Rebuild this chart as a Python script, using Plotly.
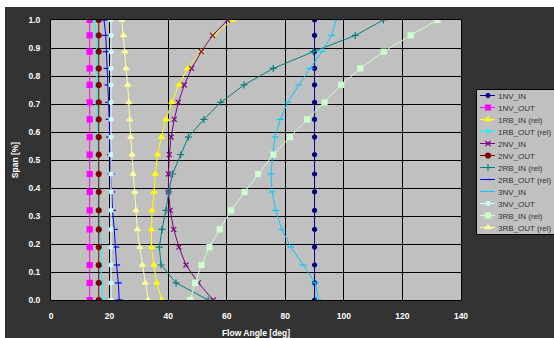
import plotly.graph_objects as go

span = [0.0, 0.061, 0.125, 0.189, 0.252, 0.32, 0.386, 0.45, 0.519,
        0.582, 0.645, 0.706, 0.768, 0.827, 0.887, 0.945, 1.0]

nv1_in = [90.0] * 17
nv1_out = [13.2] * 17
rb1_in = [37.8, 36.1, 35.1, 34.3, 34.3, 34.5, 35.2, 35.6, 36.4, 37.7, 39.3, 41.2, 43.6, 46.7, 51.2, 55.4, 62.0]
rb1_out = [17.5, 17.2, 17.0, 16.9, 16.8, 16.7, 16.5, 16.3, 16.1, 15.9, 15.8, 15.7, 15.6, 15.6, 15.6, 15.5, 14.9]
nv2_in = [55.4, 50.3, 46.1, 43.7, 41.9, 40.7, 40.1, 40.1, 40.4, 41.0, 42.1, 43.5, 45.5, 48.0, 51.3, 55.2, 60.3]
nv2_out = [16.3] * 17
rb2_in = [53.7, 42.7, 37.6, 37.0, 37.9, 39.2, 40.2, 41.5, 44.3, 46.9, 52.2, 58.0, 65.9, 75.9, 89.6, 103.9, 113.5]
rb2_out = [23.3, 23.0, 22.4, 22.1, 21.6, 21.0, 20.7, 20.5, 20.3, 20.0, 19.9, 19.7, 19.5, 19.2, 18.9, 18.7, 18.1]
nv3_in = [91.4, 90.2, 86.1, 81.9, 78.8, 76.7, 75.5, 75.1, 75.7, 76.5, 78.3, 80.8, 84.6, 88.5, 92.5, 95.8, 97.4]
nv3_out = [20.5] * 17
rb3_in = [47.6, 49.2, 51.4, 54.1, 57.6, 61.5, 66.1, 70.7, 75.9, 81.6, 87.5, 93.4, 99.1, 105.6, 113.6, 122.8, 132.0]
rb3_out = [33.2, 32.2, 31.2, 30.3, 29.5, 29.0, 28.6, 28.0, 27.7, 27.2, 26.9, 26.6, 26.2, 25.6, 25.2, 24.8, 24.2]

x_ticks = [0, 20, 40, 60, 80, 100, 120, 140]
y_ticks = [0.0, 0.1, 0.2, 0.3, 0.4, 0.5, 0.6, 0.7, 0.8, 0.9, 1.0]

series = [
    ("1NV_IN", nv1_in, "#000080", "circle", 4),
    ("1NV_OUT", nv1_out, "#FF00FF", "square", 5),
    ("1RB_IN (rel)", rb1_in, "#FFFF00", "triangle-up", 5),
    ("1RB_OUT (rel)", rb1_out, "#00FFFF", "x-thin-open", 4),
    ("2NV_IN", nv2_in, "#800080", "x-thin-open", 5),
    ("2NV_OUT", nv2_out, "#800000", "circle", 5),
    ("2RB_IN (rel)", rb2_in, "#008080", "cross-thin-open", 5),
    ("2RB_OUT (rel)", rb2_out, "#0000FF", "line-ew-open", 5),
    ("3NV_IN", nv3_in, "#00CCFF", "line-ew-open", 5),
    ("3NV_OUT", nv3_out, "#CCFFFF", "circle", 4),
    ("3RB_IN (rel)", rb3_in, "#CCFFCC", "square", 5),
    ("3RB_OUT (rel)", rb3_out, "#FFFF99", "triangle-up", 5),
]

fig = go.Figure()
for name, xs, col, sym, sz in series:
    fig.add_trace(go.Scatter(
        x=xs, y=span, name=name, mode="lines+markers",
        line=dict(color=col, width=1),
        marker=dict(symbol=sym, size=sz, color=col, line=dict(color=col, width=1.2)),
    ))

W, H = 554, 338
L, R, T, B = 51, 93, 20, 38
pw, ph = W - L - R, H - T - B

def px_x(p):
    return (p - L) / pw

def px_y(p):
    return (H - B - p) / ph

tick_font = dict(family="Liberation Sans, Arial", size=8.5, color="white", weight="bold")

fig.update_layout(
    width=W, height=H,
    margin=dict(l=L, r=R, t=T, b=B, autoexpand=False),
    paper_bgcolor="#333333",
    plot_bgcolor="#C0C0C0",
    showlegend=True,
    hovermode=False,
    legend=dict(
        x=px_x(476), y=px_y(89), xanchor="left", yanchor="top",
        bgcolor="#C0C0C0", bordercolor="#000000", borderwidth=1,
        font=dict(family="Liberation Sans, Arial", size=8, color="#333333"),
        itemwidth=30, tracegroupgap=0,
    ),
    xaxis=dict(
        range=[0, 140], tickvals=x_ticks, ticktext=[str(v) for v in x_ticks],
        showgrid=True, gridcolor="#000000", gridwidth=1,
        showline=True, linecolor="#000000", linewidth=1, mirror=True,
        zeroline=False, ticks="", ticklabelstandoff=8,
        tickfont=tick_font,
        title=dict(text="Flow Angle [deg]", font=tick_font, standoff=9),
        automargin=False,
    ),
    yaxis=dict(
        range=[0, 1], tickvals=y_ticks, ticktext=["%.1f" % v for v in y_ticks],
        showgrid=True, gridcolor="#000000", gridwidth=1,
        showline=True, linecolor="#000000", linewidth=1, mirror=True,
        zeroline=False, ticks="", ticklabelstandoff=8,
        tickfont=tick_font,
        title=dict(text="Span [%]", font=tick_font, standoff=8),
        automargin=False,
    ),
    shapes=[
        dict(type="rect", xref="paper", yref="paper", layer="below",
             x0=px_x(0), x1=px_x(W), y0=px_y(0), y1=px_y(7),
             fillcolor="white", line=dict(width=0)),
        dict(type="rect", xref="paper", yref="paper", layer="below",
             x0=px_x(0), x1=px_x(5), y0=px_y(0), y1=px_y(H),
             fillcolor="white", line=dict(width=0)),
    ],
)

post = r"""
(function(){
  document.documentElement.style.margin = '0';
  document.body.style.margin = '0';
  document.body.style.overflow = 'hidden';
  var gd = document.getElementById('{plot_id}');
  function fix(){
    var lg = gd.querySelector('g.legend'); if(!lg) return;
    var items = lg.querySelectorAll('g.traces');
    var y0 = 6.5, step = 12;
    items.forEach(function(el, i){
      var t = el.getAttribute('transform') || '';
      var m = /translate\(([-\d.]+)[ ,]+([-\d.]+)\)/.exec(t);
      var x = m ? parseFloat(m[1]) : 0;
      el.setAttribute('transform', 'translate(' + x + ',' + (y0 + step * i) + ')');
      var layers = el.querySelector('g.layers');
      if (layers) layers.setAttribute('transform', 'translate(-9,0)');
      el.querySelectorAll('g.legendlines path').forEach(function(p){ p.setAttribute('d', 'M12,0h15'); });
      var tx = el.querySelector('text.legendtext');
      if (tx) {
        tx.setAttribute('x', 21);
        tx.querySelectorAll('tspan').forEach(function(s){ if (s.hasAttribute('x')) s.setAttribute('x', 21); });
      }
    });
    var bg = lg.querySelector('rect.bg');
    if (bg) bg.setAttribute('height', y0 + step * (items.length - 1) + 6);
  }
  fix();
  if (gd.on) gd.on('plotly_afterplot', fix);
})();
"""

fig.write_html("out.html", post_script=post,
               config={"displayModeBar": False, "staticPlot": True})
